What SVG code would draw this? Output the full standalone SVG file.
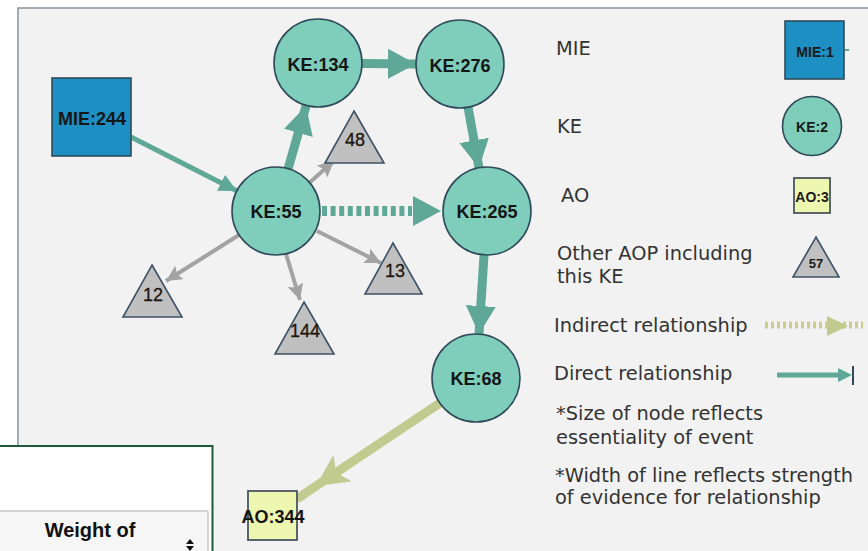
<svg xmlns="http://www.w3.org/2000/svg" width="868" height="551" viewBox="0 0 868 551">
<style>
.ke{fill:#7fcdbb;stroke:#2f4a5a;stroke-width:1.6}
.mie{fill:#1d8fc2;stroke:#2f4a5a;stroke-width:1.6}
.ao{fill:#eef7b0;stroke:#4a5560;stroke-width:1.8}
.oth{fill:#c0c0c0;stroke:#3d5266;stroke-width:1.6}
.lbl{font-family:"Liberation Sans",Arial,sans-serif;font-size:18px;font-weight:bold;fill:#151515;text-anchor:middle}
.tl{font-family:"Liberation Sans",Arial,sans-serif;font-size:18px;fill:#1e140c;text-anchor:middle;stroke:#1e140c;stroke-width:0.3}
.sm{font-family:"Liberation Sans",Arial,sans-serif;font-size:14px;font-weight:bold;fill:#1a1a1a;text-anchor:middle}
.lg{font-family:"DejaVu Sans",Verdana,sans-serif;font-size:19.4px;fill:#333}
.teal{stroke:#5fa898;fill:none}
.gray{stroke:#a3a3a3;fill:none;stroke-width:4}
.olive{stroke:#c2cb8f;fill:none}
</style>
<defs>
<marker id="hT" markerUnits="userSpaceOnUse" markerWidth="30" markerHeight="30" refX="28" refY="15" orient="auto">
<path d="M0,0 L28,15 L0,30 Z" fill="#5fa898"/>
</marker>
<marker id="hTs" markerUnits="userSpaceOnUse" markerWidth="20" markerHeight="20" refX="18" refY="9" orient="auto">
<path d="M0,0 L18,9 L0,18 Z" fill="#5fa898"/>
</marker>
<marker id="hG" markerUnits="userSpaceOnUse" markerWidth="18" markerHeight="18" refX="16" refY="8" orient="auto">
<path d="M0,0 L16,8 L0,16 L3,8 Z" fill="#a3a3a3"/>
</marker>
<marker id="hO" markerUnits="userSpaceOnUse" markerWidth="34" markerHeight="34" refX="32" refY="16" orient="auto">
<path d="M0,0 L32,16 L0,32 L8,16 Z" fill="#c2cb8f"/>
</marker>
</defs>

<!-- frame -->
<rect x="0" y="0" width="868" height="551" fill="#ffffff"/>
<rect x="18" y="8" width="870" height="560" fill="#f2f2f2" stroke="#8593a2" stroke-width="1.5"/>

<!-- connectors -->
<g id="connectors">
<line class="teal" x1="131" y1="137" x2="237" y2="191" stroke-width="5" marker-end="url(#hTs)"/>
<line class="teal" x1="288" y1="169" x2="306" y2="106" stroke-width="9" marker-end="url(#hT)"/>
<line class="teal" x1="362" y1="63.5" x2="416" y2="64" stroke-width="9" marker-end="url(#hT)"/>
<line class="teal" x1="468" y1="107" x2="479" y2="168" stroke-width="9" marker-end="url(#hT)"/>
<line class="teal" x1="484" y1="255" x2="479" y2="334" stroke-width="9" marker-end="url(#hT)"/>
<line class="teal" x1="322" y1="211" x2="412" y2="211" stroke-width="10" stroke-dasharray="5 3.6"/>
<path class="teal" d="M405,211 L441,211" stroke-width="0.1" marker-end="url(#hT)"/>
<path class="olive" d="M440,403 L316,486 L297,499" stroke-width="9" marker-mid="url(#hO)"/>
<line class="gray" x1="309" y1="183" x2="334" y2="161" marker-end="url(#hG)"/>
<line class="gray" x1="239" y1="235" x2="166" y2="281" marker-end="url(#hG)"/>
<line class="gray" x1="286" y1="254" x2="300" y2="300" marker-end="url(#hG)"/>
<line class="gray" x1="317" y1="231" x2="381" y2="263" marker-end="url(#hG)"/>
</g>

<!-- nodes -->
<g id="MIE244"><rect class="mie" x="52" y="78" width="79" height="78"/><text class="lbl" x="92" y="125">MIE:244</text></g>
<g id="KE134"><circle class="ke" cx="318" cy="63" r="44"/><text class="lbl" x="318" y="71">KE:134</text></g>
<g id="KE276"><circle class="ke" cx="460" cy="64" r="44"/><text class="lbl" x="460" y="72">KE:276</text></g>
<g id="KE55"><circle class="ke" cx="276" cy="211" r="44"/><text class="lbl" x="276" y="218">KE:55</text></g>
<g id="KE265"><circle class="ke" cx="487" cy="211" r="44"/><text class="lbl" x="487" y="218">KE:265</text></g>
<g id="KE68"><circle class="ke" cx="476" cy="378" r="44"/><text class="lbl" x="476" y="385">KE:68</text></g>
<g id="AO344"><rect class="ao" x="248" y="491" width="49" height="49"/><text class="lbl" x="273" y="523">AO:344</text></g>
<g id="T48"><polygon class="oth" points="354,111 384,163 325,163"/><text class="tl" x="355" y="146">48</text></g>
<g id="T13"><polygon class="oth" points="393,243 422,294 365,294"/><text class="tl" x="395" y="277">13</text></g>
<g id="T12"><polygon class="oth" points="152,265 182,317 123,317"/><text class="tl" x="153" y="301">12</text></g>
<g id="T144"><polygon class="oth" points="304,302 334,354 275,354"/><text class="tl" x="305" y="337">144</text></g>

<!-- legend -->
<g id="legend">
<text class="lg" x="556" y="55">MIE</text>
<rect class="mie" x="785" y="21" width="59" height="58"/>
<line x1="845" y1="50" x2="849" y2="50" stroke="#5fa898" stroke-width="2"/>
<text class="sm" x="815" y="57">MIE:1</text>
<text class="lg" x="557" y="133">KE</text>
<circle class="ke" cx="812" cy="126" r="29.5"/>
<text class="sm" x="812" y="132">KE:2</text>
<text class="lg" x="561" y="202">AO</text>
<rect class="ao" x="794" y="178" width="36" height="35"/>
<text class="sm" x="812" y="202">AO:3</text>
<text class="lg" x="557" y="260">Other AOP including</text>
<text class="lg" x="557" y="283">this KE</text>
<polygon class="oth" points="816,237 839,277 793,277"/>
<text class="sm" x="816" y="268" style="font-size:13px">57</text>
<text class="lg" x="554" y="332">Indirect relationship</text>
<line x1="765" y1="325" x2="863" y2="325" stroke="#c8d08c" stroke-width="7" stroke-dasharray="3 3"/>
<polygon points="827,316 848,326 827,336" fill="#c2cb8f"/>
<text class="lg" x="554" y="380">Direct relationship</text>
<line x1="777" y1="375" x2="842" y2="375" stroke="#5fa898" stroke-width="5"/>
<polygon points="838,368 852,375 838,382" fill="#5fa898"/>
<line x1="853" y1="366" x2="853" y2="385" stroke="#2f4a5a" stroke-width="2"/>
<text class="lg" x="556" y="420">*Size of node reflects</text>
<text class="lg" x="556" y="444">essentiality of event</text>
<text class="lg" x="555" y="482">*Width of line reflects strength</text>
<text class="lg" x="555" y="504">of evidence for relationship</text>
</g>

<!-- overlay panel -->
<g id="panel">
<rect x="-2" y="446" width="214.5" height="110" fill="#ffffff" stroke="#1d5a3a" stroke-width="2"/>
<rect x="0" y="511" width="208" height="42" fill="#f6f6f6"/>
<line x1="0" y1="511" x2="208" y2="511" stroke="#c8c8c8" stroke-width="1.5"/>
<line x1="208" y1="511" x2="208" y2="551" stroke="#c8c8c8" stroke-width="1.5"/>
<text x="90" y="537" style="font-family:'Liberation Sans',Arial,sans-serif;font-size:20px;font-weight:bold;fill:#111;text-anchor:middle">Weight of</text>
<polygon points="186,544 194,544 190,539" fill="#111"/>
<polygon points="186,546 194,546 190,551" fill="#111"/>
</g>
</svg>
